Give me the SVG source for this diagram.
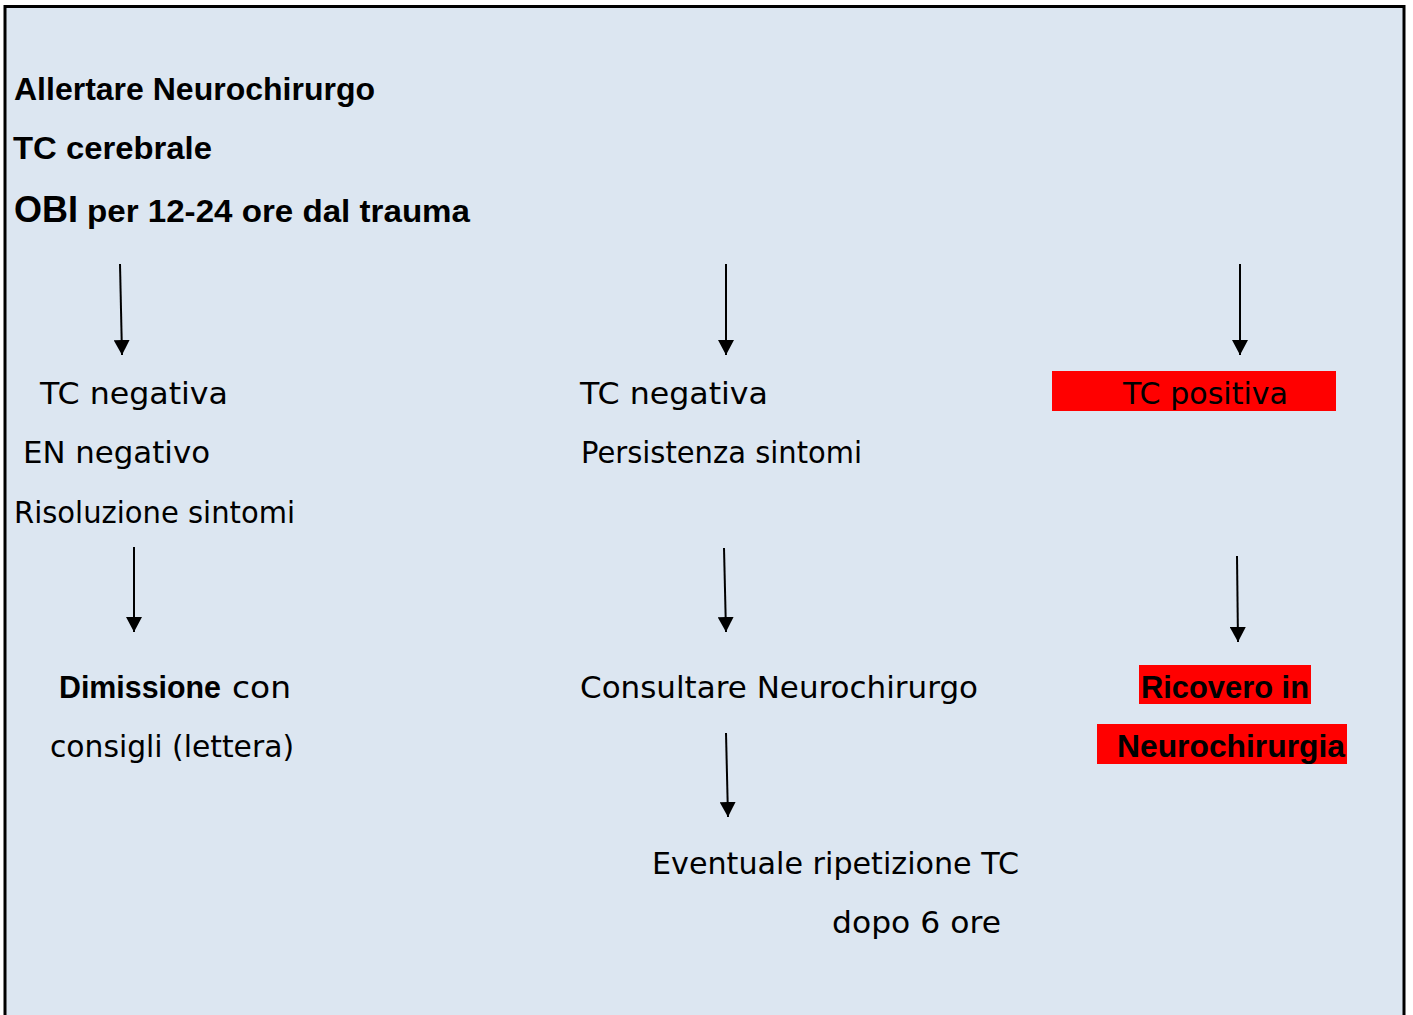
<svg xmlns="http://www.w3.org/2000/svg" width="1413" height="1015" viewBox="0 0 1413 1015">
  <defs>
    <marker id="arrowhead" viewBox="0 0 15 16" refX="15" refY="8" markerWidth="15" markerHeight="16" markerUnits="userSpaceOnUse" orient="auto">
      <path d="M0,0 L15,8 L0,16 z" fill="#000"/>
    </marker>
    <style>
      .frame { fill: #dce6f1; stroke: #000; stroke-width: 3; }
      .txt { font-family: "DejaVu Sans", sans-serif; font-size: 31px; fill: #000; }
      .bold { font-family: "Liberation Sans", Arial, sans-serif; font-weight: bold; font-size: 32px; fill: #000; }
      .hl { fill: #ff0000; }
      .conn line { stroke: #000; stroke-width: 2; marker-end: url(#arrowhead); }
    </style>
  </defs>

  <rect class="frame" x="5" y="6.5" width="1399" height="1030"/>

  <!-- header block -->
  <g id="header">
    <text class="bold" x="14" y="100" textLength="361" lengthAdjust="spacingAndGlyphs">Allertare Neurochirurgo</text>
    <text class="bold" x="13" y="159" textLength="199" lengthAdjust="spacingAndGlyphs">TC cerebrale</text>
    <text class="bold" x="14" y="222"><tspan font-size="37" textLength="64" lengthAdjust="spacingAndGlyphs">OBI</tspan><tspan x="87" textLength="383" lengthAdjust="spacingAndGlyphs">per 12-24 ore dal trauma</tspan></text>
  </g>

  <!-- left column -->
  <g id="tc-negativa-risoluzione">
    <text class="txt" x="40" y="404" textLength="188" lengthAdjust="spacingAndGlyphs">TC negativa</text>
    <text class="txt" x="23" y="463" textLength="187" lengthAdjust="spacingAndGlyphs">EN negativo</text>
    <text class="txt" x="14" y="523" textLength="281" lengthAdjust="spacingAndGlyphs">Risoluzione sintomi</text>
  </g>
  <g id="dimissione">
    <text x="59" y="698"><tspan class="bold" font-size="31" textLength="162" lengthAdjust="spacingAndGlyphs">Dimissione</tspan><tspan class="txt" x="232" textLength="59" lengthAdjust="spacingAndGlyphs">con</tspan></text>
    <text class="txt" x="50" y="757" textLength="244" lengthAdjust="spacingAndGlyphs">consigli (lettera)</text>
  </g>

  <!-- middle column -->
  <g id="tc-negativa-persistenza">
    <text class="txt" x="580" y="404" textLength="188" lengthAdjust="spacingAndGlyphs">TC negativa</text>
    <text class="txt" x="581" y="463" textLength="281" lengthAdjust="spacingAndGlyphs">Persistenza sintomi</text>
  </g>
  <g id="consultare">
    <text class="txt" x="580" y="698" textLength="398" lengthAdjust="spacingAndGlyphs">Consultare Neurochirurgo</text>
  </g>
  <g id="ripetizione-tc">
    <text class="txt" x="652" y="874" textLength="367" lengthAdjust="spacingAndGlyphs">Eventuale ripetizione TC</text>
    <text class="txt" x="832" y="933" textLength="169" lengthAdjust="spacingAndGlyphs">dopo 6 ore</text>
  </g>

  <!-- right column -->
  <g id="tc-positiva">
    <rect class="hl" x="1052" y="371" width="284" height="40"/>
    <text class="txt" x="1123" y="404" textLength="165" lengthAdjust="spacingAndGlyphs">TC positiva</text>
  </g>
  <g id="ricovero">
    <rect class="hl" x="1139" y="665" width="172" height="39"/>
    <rect class="hl" x="1097" y="724" width="250" height="40"/>
    <text class="bold" font-size="31" x="1141" y="698" textLength="168" lengthAdjust="spacingAndGlyphs">Ricovero in</text>
    <text class="bold" font-size="31" x="1117" y="757" textLength="228" lengthAdjust="spacingAndGlyphs">Neurochirurgia</text>
  </g>

  <!-- connectors -->
  <g id="connectors" class="conn">
    <line x1="120" y1="264" x2="122" y2="355"/>
    <line x1="726" y1="264" x2="726" y2="355"/>
    <line x1="1240" y1="264" x2="1240" y2="355"/>
    <line x1="134" y1="547" x2="134" y2="632"/>
    <line x1="724" y1="548" x2="726" y2="632"/>
    <line x1="1237" y1="556" x2="1238" y2="642"/>
    <line x1="726" y1="733" x2="728" y2="817"/>
  </g>
</svg>
